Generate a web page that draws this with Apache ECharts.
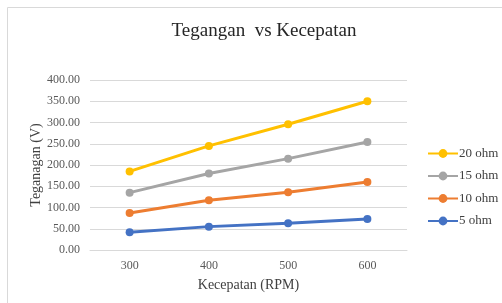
<!DOCTYPE html>
<html>
<head>
<meta charset="utf-8">
<script src="https://cdn.jsdelivr.net/npm/echarts@6/dist/echarts.min.js"></script>
<style>
	html, body { margin: 0; padding: 0; background: #fff; }
	#line_chart { width: 502px; height: 303px; }
</style>
</head>
<body>
<div id="line_chart"></div>
<script>
var speeds = ["300", "400", "500", "600"];
var ohm20 = [185, 245, 296, 350];
var ohm15 = [135, 180, 215, 254];
var ohm10 = [87, 117, 136, 160];
var ohm5 = [42, 55, 63, 73];

var serif = "'Liberation Serif', 'DejaVu Serif', serif";

function makeSeries(name, values, color) {
	return {
		name: name,
		type: 'line',
		data: values,
		symbol: 'circle',
		symbolSize: 8,
		lineStyle: { width: 3, color: color },
		itemStyle: { color: color },
		emphasis: { disabled: true }
	};
}

function line_chart() {
	var chart = echarts.init(document.getElementById("line_chart"));
	chart.setOption({
		animation: false,
		title: {
			text: 'Tegangan  vs Kecepatan',
			left: 259,
			textAlign: 'center',
			top: 17,
			textStyle: {
				fontFamily: serif,
				fontSize: 19,
				fontWeight: 'normal',
				color: '#262626'
			}
		},
		legend: {
			orient: 'vertical',
			left: 422,
			top: 142,
			itemWidth: 30,
			itemHeight: 11,
			itemGap: 9.5,
			data: ['20 ohm', '15 ohm', '10 ohm', '5 ohm'],
			textStyle: {
				fontFamily: serif,
				fontSize: 13,
				color: '#404040',
				padding: [0, 0, 0, -4]
			}
		},
		graphic: [{
			type: 'line',
			shape: { x1: 7.5, y1: 7.5, x2: 502, y2: 7.5 },
			style: { stroke: '#d9d9d9', lineWidth: 1 }
		}, {
			type: 'line',
			shape: { x1: 7.5, y1: 7.5, x2: 7.5, y2: 303 },
			style: { stroke: '#d9d9d9', lineWidth: 1 }
		}],
		grid: {
			left: 90,
			right: 95,
			top: 80,
			bottom: 53
		},
		xAxis: {
			type: 'category',
			data: speeds,
			boundaryGap: true,
			name: 'Kecepatan (RPM)',
			nameLocation: 'middle',
			nameGap: 28,
			nameMoveOverlap: false,
			nameTextStyle: {
				fontFamily: serif,
				fontSize: 14,
				color: '#404040'
			},
			axisLine: { lineStyle: { color: '#d9d9d9', width: 1 } },
			axisTick: { show: false },
			axisLabel: {
				margin: 10,
				fontFamily: serif,
				fontSize: 12,
				color: '#595959'
			}
		},
		yAxis: {
			type: 'value',
			min: 0,
			max: 400,
			interval: 50,
			name: 'Teganagan (V)',
			nameLocation: 'middle',
			nameGap: 47,
			nameMoveOverlap: false,
			nameTextStyle: {
				fontFamily: serif,
				fontSize: 14,
				color: '#404040'
			},
			axisLine: { show: false },
			axisTick: { show: false },
			axisLabel: {
				margin: 10,
				fontFamily: serif,
				fontSize: 12,
				color: '#595959',
				formatter: function (v) { return v.toFixed(2); }
			},
			splitLine: { lineStyle: { color: '#d9d9d9', width: 1 } }
		},
		series: [
			makeSeries('20 ohm', ohm20, '#FFC000'),
			makeSeries('15 ohm', ohm15, '#A5A5A5'),
			makeSeries('10 ohm', ohm10, '#ED7D31'),
			makeSeries('5 ohm', ohm5, '#4472C4')
		]
	});
}
line_chart();
</script>
</body>
</html>
